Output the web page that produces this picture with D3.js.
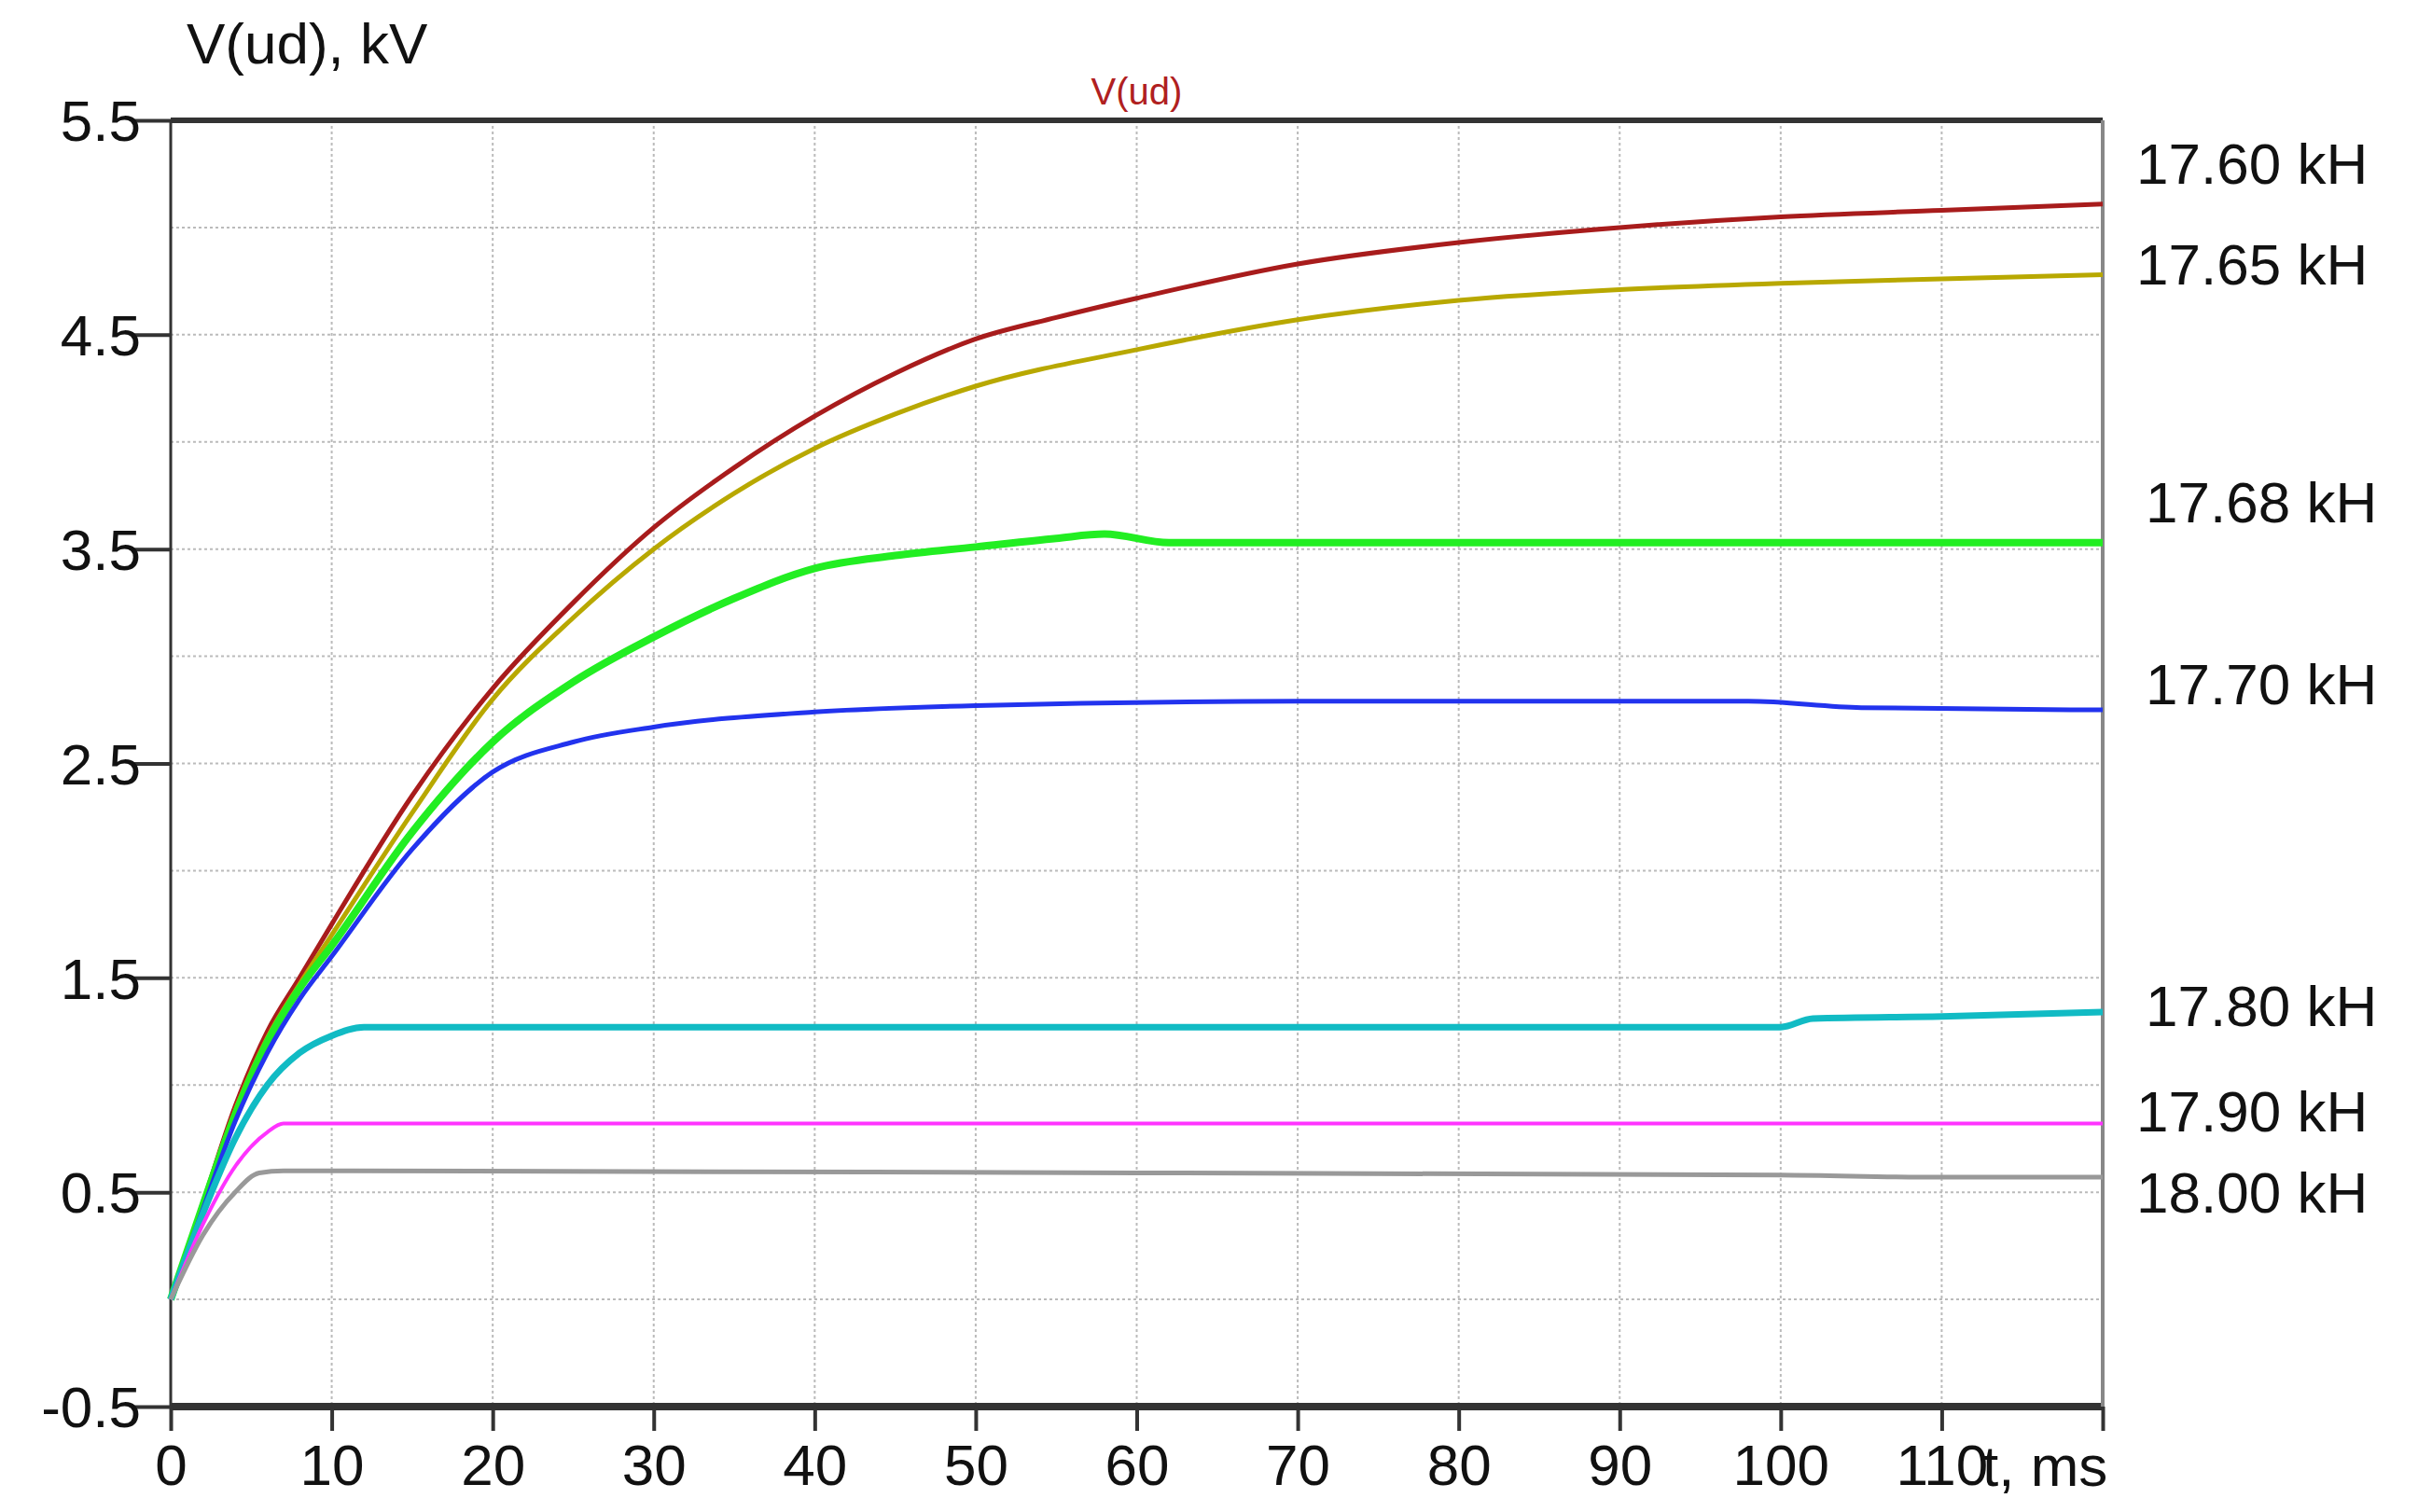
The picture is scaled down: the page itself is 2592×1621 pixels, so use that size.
<!DOCTYPE html>
<html><head><meta charset="utf-8">
<script src="https://cdn.jsdelivr.net/npm/d3@7"></script>
<style>body{margin:0;background:#fff}text{font-family:"Liberation Sans",Arial,sans-serif}</style>
</head><body><div id="chart"></div>
<script>
// Series data: [t ms, V kV]
var red = [[0,0],[2,0.45],[4,0.9],[6,1.25],[8,1.5],[10,1.75],[15,2.35],[20,2.85],[25,3.25],[30,3.6],[35,3.88],[40,4.12],[45,4.32],[50,4.48],[55,4.58],[60,4.67],[70,4.83],[80,4.93],[90,5.0],[100,5.05],[110,5.08],[120,5.11]];
var yellow = [[0,0],[2,0.45],[4,0.88],[6,1.22],[8,1.47],[10,1.7],[15,2.27],[20,2.8],[25,3.18],[30,3.5],[35,3.76],[40,3.97],[45,4.13],[50,4.26],[60,4.43],[70,4.57],[80,4.66],[90,4.71],[100,4.74],[110,4.76],[120,4.78]];
var green = [[0,0],[2,0.44],[4,0.86],[6,1.2],[8,1.45],[10,1.65],[15,2.18],[20,2.6],[25,2.88],[30,3.09],[35,3.27],[40,3.41],[45,3.47],[50,3.51],[55,3.55],[58,3.57],[62,3.53],[120,3.53]];
var blue = [[0,0],[2,0.42],[4,0.83],[6,1.15],[8,1.4],[10,1.6],[15,2.1],[20,2.46],[25,2.6],[30,2.67],[40,2.74],[50,2.77],[70,2.79],[98,2.79],[105,2.76],[120,2.75]];
var cyan = [[0,0],[2,0.4],[4,0.75],[6,1.0],[8,1.15],[10,1.23],[12,1.27],[100,1.27],[102,1.31],[110,1.32],[120,1.34]];
var magenta = [[0,0],[2,0.35],[4,0.62],[6,0.78],[7,0.82],[120,0.82]];
var gray = [[0,0],[2,0.3],[4,0.5],[5.5,0.59],[7,0.6],[60,0.59],[100,0.58],[110,0.57],[120,0.57]];
var series = [red, yellow, green, blue, cyan, magenta, gray];
var colors = ["#a81c1c", "#b8a800", "#22ee22", "#2233ee", "#11bbc4", "#ff33ff", "#999999"];
var widths = [5, 5, 8, 5, 7, 4, 5];
var labels = ["17.60 kH", "17.65 kH", "17.68 kH", "17.70 kH", "17.80 kH", "17.90 kH", "18.00 kH"];
var labelY = [5.3, 4.83, 3.72, 2.87, 1.37, 0.88, 0.5];
var labelDx = [0, 0, 10, 10, 10, 0, 0];
var xTicks = d3.range(0, 111, 10);
var yTicks = [-0.5, 0.5, 1.5, 2.5, 3.5, 4.5, 5.5];

var W = 2592, H = 1621;
var L = 183, R = 2254, T = 129, B = 1508;
var svg = d3.select("#chart").append("svg").attr("width", W).attr("height", H);
var x = d3.scaleLinear().domain([0, 120]).range([L, R]);
var y = d3.scaleLinear().domain([-0.5, 5.5]).range([B, T]);

// grid
svg.append("g").selectAll("line").data(d3.range(10, 120, 10)).join("line")
  .attr("x1", d => x(d)).attr("x2", d => x(d)).attr("y1", T).attr("y2", B)
  .attr("stroke", "#bbb").attr("stroke-width", 2).attr("stroke-dasharray", "3,3");
svg.append("g").selectAll("line").data(d3.range(0, 12).map(i => -0.5 + i * 0.5).slice(1)).join("line")
  .attr("x1", L).attr("x2", R).attr("y1", d => y(d)).attr("y2", d => y(d))
  .attr("stroke", "#bbb").attr("stroke-width", 2).attr("stroke-dasharray", "3,3");

// frame
svg.append("line").attr("x1", L).attr("x2", R).attr("y1", T).attr("y2", T).attr("stroke", "#333").attr("stroke-width", 6);
svg.append("line").attr("x1", L).attr("x2", R).attr("y1", B).attr("y2", B).attr("stroke", "#333").attr("stroke-width", 8);
svg.append("line").attr("x1", L).attr("x2", L).attr("y1", T).attr("y2", B).attr("stroke", "#333").attr("stroke-width", 3);
svg.append("line").attr("x1", R).attr("x2", R).attr("y1", T).attr("y2", B).attr("stroke", "#888").attr("stroke-width", 4);

// axes
var xAxis = svg.append("g").attr("transform", "translate(0," + B + ")")
  .call(d3.axisBottom(x).tickValues(xTicks.concat([120])).tickSize(26).tickFormat(d => d === 120 ? "" : d));
var yAxis = svg.append("g").attr("transform", "translate(" + L + ",0)")
  .call(d3.axisLeft(y).tickValues(yTicks).tickSize(40).tickFormat(d => d.toFixed(1)));
[xAxis, yAxis].forEach(a => {
  a.select(".domain").remove();
  a.selectAll("line").attr("stroke", "#333").attr("stroke-width", 4);
  a.selectAll("text").attr("font-size", 62).attr("fill", "#111");
});
yAxis.selectAll("text").attr("x", -32).attr("dy", "0.35em");
xAxis.selectAll("text").attr("y", 40).attr("dy", "0.71em");

// lines
var line = d3.line().curve(d3.curveMonotoneX).x(d => x(d[0])).y(d => y(d[1]));
svg.append("g").selectAll("path").data(series).join("path")
  .attr("d", line).attr("fill", "none")
  .attr("stroke", (d, i) => colors[i]).attr("stroke-width", (d, i) => widths[i]);

// labels
svg.append("g").selectAll("text").data(labels).join("text")
  .attr("x", (d, i) => 2290 + labelDx[i]).attr("y", (d, i) => y(labelY[i]))
  .attr("dy", "0.35em").attr("font-size", 62).attr("fill", "#111").text(d => d);

svg.append("text").attr("x", 200).attr("y", 68).attr("font-size", 62).attr("fill", "#111").text("V(ud), kV");
svg.append("text").attr("x", x(60)).attr("y", 112).attr("text-anchor", "middle").attr("font-size", 40).attr("fill", "#b02020").text("V(ud)");
svg.append("text").attr("x", 2125).attr("y", 1593).attr("font-size", 62).attr("fill", "#111").text("t, ms");
</script></body></html>
